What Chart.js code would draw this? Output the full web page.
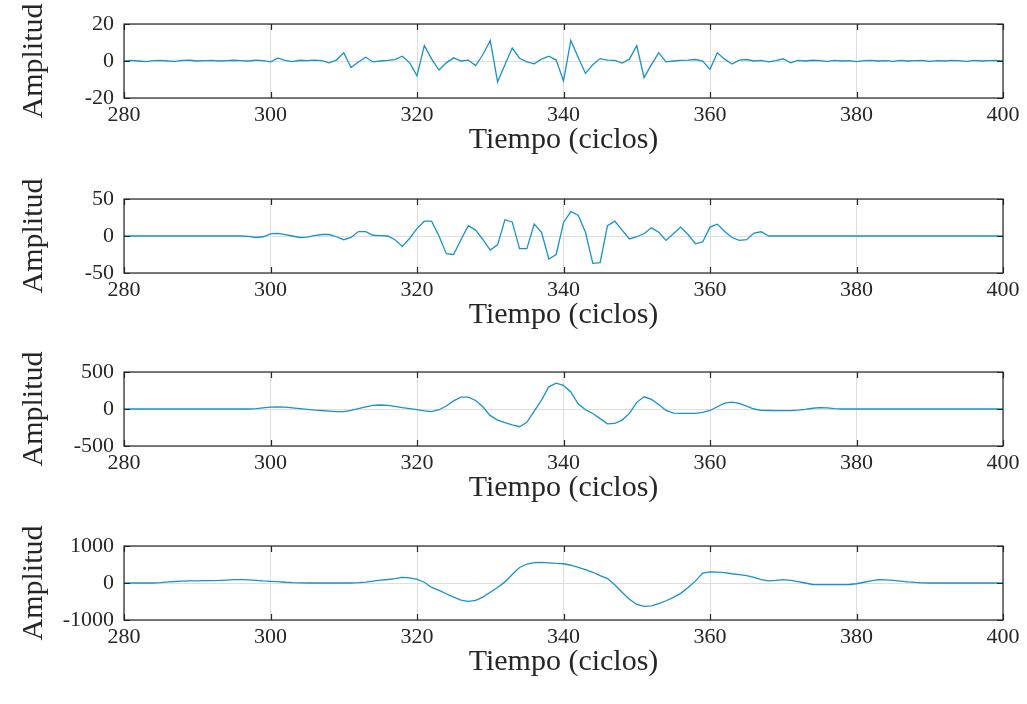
<!DOCTYPE html>
<html>
<head>
<meta charset="utf-8">
<script src="https://cdn.jsdelivr.net/npm/chart.js@4/dist/chart.umd.min.js"></script>
<style>
  html, body { margin: 0; padding: 0; background: #fff; }
  .panel { position: absolute; left: 0; width: 1027px; height: 174px; }
</style>
</head>
<body>
<div class="panel" style="top:0px"><canvas id="c1"></canvas></div>
<div class="panel" style="top:175px"><canvas id="c2"></canvas></div>
<div class="panel" style="top:348px"><canvas id="c3"></canvas></div>
<div class="panel" style="top:522px"><canvas id="c4"></canvas></div>
<script>
// --- data (one sample per cycle) ---
const cycles = [
  280,281,282,283,284,285,286,287,288,289,
  290,291,292,293,294,295,296,297,298,299,
  300,301,302,303,304,305,306,307,308,309,
  310,311,312,313,314,315,316,317,318,319,
  320,321,322,323,324,325,326,327,328,329,
  330,331,332,333,334,335,336,337,338,339,
  340,341,342,343,344,345,346,347,348,349,
  350,351,352,353,354,355,356,357,358,359,
  360,361,362,363,364,365,366,367,368,369,
  370,371,372,373,374,375,376,377,378,379,
  380,381,382,383,384,385,386,387,388,389,
  390,391,392,393,394,395,396,397,398,399,400
];

const amp1 = [
  0, 0.3, 0, -0.3, 0.2, 0.3, 0, -0.2, 0.3, 0.4,
  0, 0.2, 0.3, 0, 0.2, 0.4, 0.2, 0, 0.5, 0.2,
  -0.5, 1.5, 0.3, -0.3, 0.4, 0.2, 0.5, 0.2, -1.0, 0.5,
  4.4, -3.5, -0.5, 2.0, -0.5, 0, 0.3, 0.8, 2.6, -1.0,
  -8.0, 8.3, 1.0, -4.9, -1.0, 1.7, 0, 0.5, -2.5, 3.5,
  11.1, -11.3, -2.0, 7.0, 1.5, -0.5, -1.5, 1.0, 2.6, 0.5,
  -10.8, 11.1, 2.0, -6.7, -2.0, 1.3, 0.5, 0.3, -1.1, 1.0,
  8.3, -9.0, -2.0, 4.4, -0.5, 0, 0.3, 0.5, 0.8, 0,
  -4.5, 4.4, 1.0, -1.6, 0.5, 0.8, 0, 0.3, -0.5, 0.2,
  1.2, -1.0, 0.3, 0, 0.4, 0.2, -0.2, 0.3, 0, 0.2,
  -0.3, 0.2, 0.3, 0, 0.2, -0.2, 0.3, 0, 0.2, 0.3,
  -0.2, 0.2, 0, 0.3, 0.2, -0.2, 0.3, 0, 0.2, 0.3, 0
];

const amp2 = [
  0, 0, 0, 0, 0, 0, 0, 0, 0, 0,
  0, 0, 0, 0, 0, 0, 0, -0.5, -2, -1,
  3, 3.5, 2, 0, -2, -1.5, 0.5, 2, 2, -1,
  -5, -2, 6, 6, 1, 0.5, 0, -5, -14, -3,
  10, 20, 20, 0, -24, -25, -5, 14, 8, -5,
  -19, -12, 22, 19, -17, -17, 16, 5, -31, -25,
  18, 33, 28, 5, -37, -36, 14, 20, 8, -4,
  -1, 3, 11, 5, -6, 3, 12, 2, -10.5, -8,
  12, 16, 6, -2, -6, -5, 4, 5.7, 0, 0,
  0, 0, 0, 0, 0, 0, 0, 0, 0, 0,
  0, 0, 0, 0, 0, 0, 0, 0, 0, 0,
  0, 0, 0, 0, 0, 0, 0, 0, 0, 0, 0
];

const amp3 = [
  0, 0, 0, 0, 0, 0, 0, 0, 0, 0,
  0, 0, 0, 0, 0, 0, 0, 0, 5, 15,
  25, 28, 25, 15, 5, -5, -15, -20, -28, -35,
  -36, -20, 5, 30, 48, 54, 48, 36, 18, 5,
  -9, -25, -36, -10, 40, 110, 160, 160, 115, 30,
  -90, -150, -185, -215, -239, -180, -30, 120, 300, 350,
  320, 230, 70, -10, -60, -130, -200, -195, -150, -60,
  90, 165, 130, 60, -20, -55, -60, -58, -60, -45,
  -20, 30, 80, 92, 75, 40, 0, -18, -20, -22,
  -22, -22, -15, -5, 10, 18, 15, 5, 0, 0,
  0, 0, 0, 0, 0, 0, 0, 0, 0, 0,
  0, 0, 0, 0, 0, 0, 0, 0, 0, 0, 0
];

const amp4 = [
  0, 0, 0, 0, 0, 10, 30, 40, 50, 55,
  60, 62, 65, 70, 80, 90, 90, 85, 70, 55,
  45, 35, 20, 10, 5, 0, 0, 0, 0, 0,
  0, 0, 10, 25, 50, 75, 95, 120, 150, 140,
  100, 20, -120, -200, -290, -380, -460, -497, -470, -380,
  -250, -120, 30, 230, 420, 513, 550, 560, 545, 530,
  520, 480, 420, 360, 290, 200, 120, -50, -250, -440,
  -580, -630, -620, -560, -480, -390, -280, -120, 50, 270,
  300, 295, 280, 250, 225, 200, 150, 90, 60, 70,
  90, 70, 40, 0, -40, -45, -45, -45, -45, -40,
  -20, 20, 60, 90, 85, 70, 50, 30, 15, 5,
  0, 0, 0, 0, 0, 0, 0, 0, 0, 0, 0
];

const xTicks = [280, 300, 320, 340, 360, 380, 400];
const yLimits = [20, 50, 500, 1000];
const xTitle = 'Tiempo (ciclos)';
const yTitle = 'Amplitud';

// --- look ---
Chart.defaults.font.family = "'Liberation Serif', 'DejaVu Serif', serif";
Chart.defaults.color = '#262626';
const lineColor = '#1892c8';
const gridColor = '#dedede';

// box round the plot plus inward tick marks, like the original figure
const framePlugin = {
  id: 'frame',
  afterDraw(chart) {
    const { ctx, chartArea: a, scales } = chart;
    ctx.save();
    ctx.strokeStyle = '#262626';
    ctx.lineWidth = 1.2;
    ctx.strokeRect(a.left, a.top, a.right - a.left, a.bottom - a.top);
    ctx.beginPath();
    scales.x.ticks.forEach(t => {
      const px = Math.round(scales.x.getPixelForValue(t.value)) + 0.5;
      ctx.moveTo(px, a.bottom); ctx.lineTo(px, a.bottom - 6);
      ctx.moveTo(px, a.top);    ctx.lineTo(px, a.top + 6);
    });
    scales.y.ticks.forEach(t => {
      const py = Math.round(scales.y.getPixelForValue(t.value)) + 0.5;
      ctx.moveTo(a.left, py);  ctx.lineTo(a.left + 6, py);
      ctx.moveTo(a.right, py); ctx.lineTo(a.right - 6, py);
    });
    ctx.stroke();
    ctx.restore();
  }
};

function makePanel(id, values, lim) {
  const pts = cycles.map((c, i) => ({ x: c, y: values[i] }));
  return new Chart(document.getElementById(id), {
    type: 'line',
    data: {
      datasets: [{
        data: pts,
        borderColor: lineColor,
        borderWidth: 1.3,
        pointRadius: 0,
        tension: 0,
        fill: false
      }]
    },
    options: {
      responsive: true,
      maintainAspectRatio: false,
      animation: false,
      events: [],
      layout: { padding: { top: 24, right: 24, bottom: 0, left: 0 } },
      plugins: { legend: { display: false }, tooltip: { enabled: false } },
      scales: {
        x: {
          type: 'linear',
          min: 280, max: 400,
          afterBuildTicks: s => { s.ticks = xTicks.map(v => ({ value: v })); },
          afterFit: s => { s.height = 76; },
          grid: { color: gridColor, drawTicks: false },
          border: { display: false },
          ticks: { font: { size: 22 }, padding: 4, maxRotation: 0, callback: v => String(v) },
          title: { display: true, text: xTitle, font: { size: 30 }, padding: { top: 0, bottom: 16 } }
        },
        y: {
          min: -lim, max: lim,
          afterBuildTicks: s => { s.ticks = [-lim, 0, lim].map(v => ({ value: v })); },
          afterFit: s => { s.width = 124; },
          grid: { color: gridColor, drawTicks: false },
          border: { display: false },
          ticks: { font: { size: 22 }, padding: 10, callback: v => String(v) },
          title: { display: true, text: yTitle, font: { size: 30 }, padding: { top: 16, bottom: 0 } }
        }
      }
    },
    plugins: [framePlugin]
  });
}

makePanel('c1', amp1, yLimits[0]);
makePanel('c2', amp2, yLimits[1]);
makePanel('c3', amp3, yLimits[2]);
makePanel('c4', amp4, yLimits[3]);
</script>
</body>
</html>
